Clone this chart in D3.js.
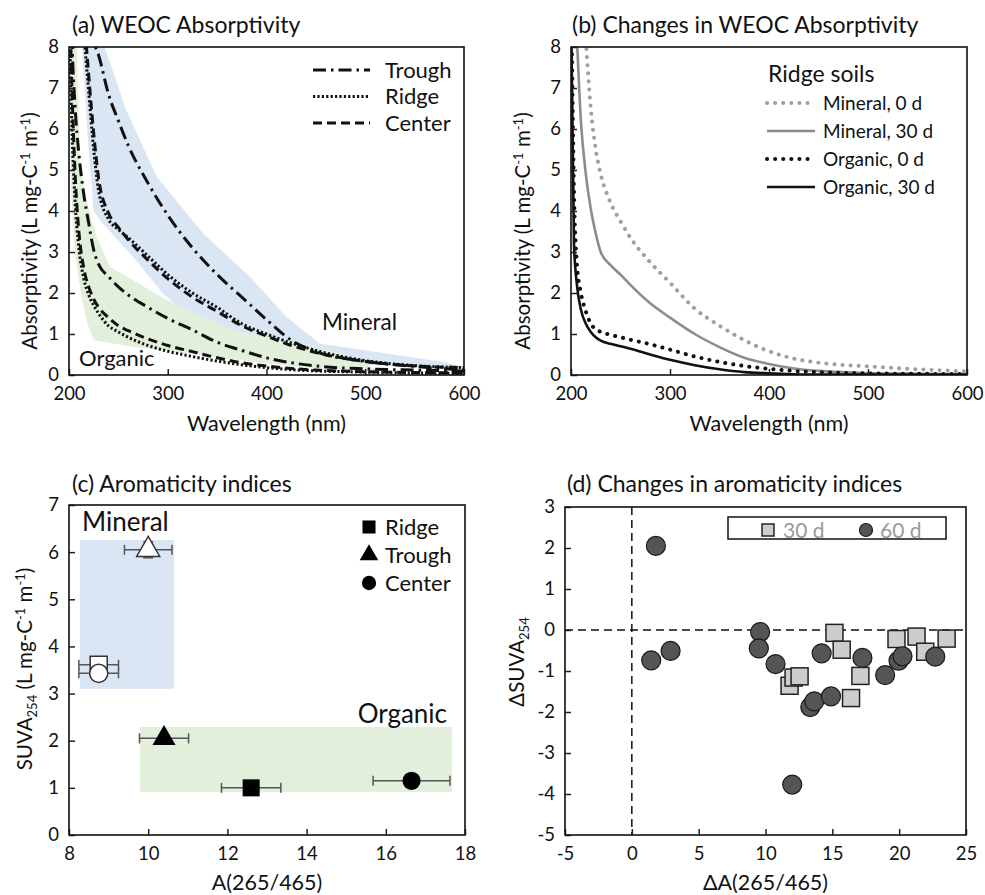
<!DOCTYPE html>
<html>
<head>
<meta charset="utf-8">
<script src="https://cdn.jsdelivr.net/npm/d3@7"></script>
<style>
  body { margin: 0; background: #fff; }
  svg { display: block; font-family: Lato, sans-serif; }
</style>
</head>
<body>
<svg id="fig" width="985" height="895"></svg>
<script>
// ---- shared wavelength grid (nm) ----
const wavelengths = [200, 203, 206, 210, 215, 220, 225, 230, 240, 250, 260, 280, 300, 325, 350, 375, 400, 425, 450, 500, 550, 600];

// (a) absorptivity by landscape position
const troughMineral = [14, 13, 12, 11, 10, 9, 8.15, 7.8, 6.85, 6.2, 5.6, 4.68, 3.9, 3.1, 2.45, 1.9, 1.35, 0.85, 0.57, 0.33, 0.21, 0.12];
const ridgeMineral  = [20, 17, 14, 10.5, 8.4, 6.9, 5.5, 4.5, 3.8, 3.55, 3.35, 2.9, 2.45, 2.0, 1.65, 1.25, 1.0, 0.78, 0.6, 0.35, 0.23, 0.18];
const centerMineral = [20, 17, 14, 11, 8.9, 7.3, 5.9, 4.8, 3.95, 3.6, 3.3, 2.8, 2.35, 1.9, 1.55, 1.2, 0.95, 0.72, 0.55, 0.33, 0.22, 0.18];
const troughOrganic = [12, 8.2, 6.6, 5.4, 4.4, 3.7, 3.05, 2.7, 2.4, 2.15, 1.95, 1.65, 1.38, 1.1, 0.8, 0.6, 0.42, 0.3, 0.22, 0.15, 0.12, 0.1];
const ridgeOrganic  = [9, 6, 4.3, 3.1, 2.35, 1.95, 1.7, 1.5, 1.2, 1.05, 0.92, 0.72, 0.58, 0.45, 0.34, 0.25, 0.18, 0.13, 0.1, 0.07, 0.05, 0.04];
const centerOrganic = [10, 7, 5, 3.5, 2.6, 2.15, 1.85, 1.65, 1.4, 1.2, 1.08, 0.88, 0.72, 0.57, 0.42, 0.3, 0.22, 0.16, 0.12, 0.08, 0.06, 0.05];

// shaded ranges in (a)
const mineralBandTopWl = [213, 236, 258, 289, 336, 383, 420, 454, 579, 600];
const mineralBandTop   = [8, 8, 6.46, 4.83, 3.45, 2.4, 1.42, 0.77, 0.32, 0.2];
const mineralBandLowWl = [213, 219, 225, 231, 265, 295, 306, 366, 434, 500, 600];
const mineralBandLow   = [8, 5.8, 4.0, 3.78, 2.88, 1.99, 1.75, 1.02, 0.53, 0.25, 0.15];
const organicBandTopWl = [200, 208, 211, 221, 228, 241.5, 299, 366, 467, 500, 521];
const organicBandTop   = [8, 8, 5.08, 3.94, 3.37, 2.64, 1.83, 1.1, 0.6, 0.28, 0];
const organicBandLowWl = [200, 202, 206, 212, 218, 225, 265, 332, 400, 467, 521];
const organicBandLow   = [8, 4.5, 3.0, 2.0, 1.3, 0.85, 0.69, 0.49, 0.28, 0.12, 0];

// (b) ridge soils, 0 d vs 30 d
const mineral0d  = [20, 16, 13, 10.5, 8.2, 6.5, 5.5, 4.9, 4.2, 3.75, 3.35, 2.75, 2.25, 1.62, 1.2, 0.85, 0.58, 0.4, 0.3, 0.21, 0.14, 0.09];
const mineral30d = [14, 10, 8.2, 6.2, 4.9, 4.05, 3.45, 3.0, 2.68, 2.45, 2.2, 1.75, 1.4, 1.0, 0.68, 0.42, 0.27, 0.16, 0.1, 0.05, 0.03, 0.02];
const organic0d  = [10, 4.5, 2.7, 2.0, 1.55, 1.25, 1.12, 1.05, 0.98, 0.92, 0.86, 0.75, 0.62, 0.45, 0.32, 0.22, 0.15, 0.1, 0.07, 0.04, 0.03, 0.02];
const organic30d = [9, 3.2, 2.2, 1.6, 1.25, 1.05, 0.92, 0.84, 0.76, 0.7, 0.64, 0.5, 0.37, 0.24, 0.14, 0.07, 0.04, 0.02, 0.01, 0.01, 0.01, 0.01];

// (c) aromaticity indices: order Ridge, Trough, Center
const sites = ["Ridge", "Trough", "Center"];
const mineralA    = [8.75, 10.0, 8.75];
const mineralAErr = [0.5, 0.6, 0.5];
const mineralSuva = [3.61, 6.05, 3.43];
const mineralSuvaErr = [0.08, 0.17, 0.08];
const organicA    = [12.6, 10.4, 16.65];
const organicAErr = [0.75, 0.62, 0.97];
const organicSuva = [1.0, 2.05, 1.15];
const mineralRect = [8.28, 10.65, 3.1, 6.26];
const organicRect = [9.79, 17.67, 0.91, 2.29];

// (d) changes in aromaticity indices
const dA30 = [15.16, 15.7, 11.8, 12.1, 12.55, 17.1, 16.4, 19.8, 21.3, 21.95, 23.55];
const dS30 = [-0.07, -0.48, -1.36, -1.16, -1.13, -1.12, -1.66, -0.22, -0.16, -0.53, -0.21];
const dA60 = [1.8, 1.45, 2.9, 9.6, 9.5, 10.75, 13.35, 13.65, 14.2, 14.9, 17.25, 18.95, 19.95, 20.25, 22.7, 12.0];
const dS60 = [2.05, -0.74, -0.51, -0.05, -0.45, -0.83, -1.88, -1.74, -0.57, -1.62, -0.68, -1.1, -0.75, -0.64, -0.65, -3.77];

const xTicksWl = [200, 300, 400, 500, 600];
const yTicksAbs = [0, 1, 2, 3, 4, 5, 6, 7, 8];

const svg = d3.select("#fig");

function drawAxes(box, x, y, xTicks, yTicks) {
  const g = svg.append("g");
  g.append("g")
    .attr("transform", `translate(0,${box.y1})`)
    .call(d3.axisBottom(x).tickValues(xTicks).tickSize(-6).tickPadding(12).tickFormat(d => String(d)));
  g.append("g")
    .attr("transform", `translate(${box.x0},0)`)
    .call(d3.axisLeft(y).tickValues(yTicks).tickSize(-6).tickPadding(10).tickFormat(d => String(d)));
  g.selectAll(".domain").remove();
  g.selectAll(".tick line").attr("stroke", "#222").attr("stroke-width", 1.5);
  g.selectAll(".tick text").attr("font-size", 18.5).attr("font-family", "Lato").attr("fill", "#111");
  svg.append("rect")
    .attr("x", box.x0).attr("y", box.y0)
    .attr("width", box.x1 - box.x0).attr("height", box.y1 - box.y0)
    .attr("fill", "none").attr("stroke", "#111").attr("stroke-width", 1.6);
}

function title(x, y, txt) {
  svg.append("text").attr("x", x).attr("y", y).attr("font-size", 23).attr("fill", "#111").text(txt);
}

function absLabel(cx, cy) {
  const t = svg.append("text")
    .attr("transform", `translate(${cx},${cy}) rotate(-90)`)
    .attr("text-anchor", "middle").attr("dy", "0.35em")
    .attr("font-size", 20.5).attr("fill", "#111");
  t.append("tspan").text("Absorptivity (L mg-C");
  t.append("tspan").attr("font-size", 13).attr("dy", -7).text("-1");
  t.append("tspan").attr("dy", 7).text(" m");
  t.append("tspan").attr("font-size", 13).attr("dy", -7).text("-1");
  t.append("tspan").attr("dy", 7).text(")");
}

function clip(id, box) {
  svg.append("clipPath").attr("id", id).append("rect")
    .attr("x", box.x0).attr("y", box.y0)
    .attr("width", box.x1 - box.x0).attr("height", box.y1 - box.y0);
}

// ================= (a) =================
const boxA = { x0: 69, x1: 464, y0: 47, y1: 375 };
const xA = d3.scaleLinear().domain([200, 600]).range([boxA.x0, boxA.x1]);
const yA = d3.scaleLinear().domain([0, 8]).range([boxA.y1, boxA.y0]);
clip("clipA", boxA);

const bandPoly = (topWl, top, lowWl, low, x, y) => {
  const pts = topWl.map((w, i) => [w, top[i]])
    .concat(lowWl.map((w, i) => [w, low[i]]).reverse());
  return d3.line().x(d => x(d[0])).y(d => y(d[1]))(pts) + "Z";
};

const gA = svg.append("g").attr("clip-path", "url(#clipA)");
gA.append("path").attr("d", bandPoly(mineralBandTopWl, mineralBandTop, mineralBandLowWl, mineralBandLow, xA, yA))
  .attr("fill", "#dbe6f4");
gA.append("path").attr("d", bandPoly(organicBandTopWl, organicBandTop, organicBandLowWl, organicBandLow, xA, yA))
  .attr("fill", "#e2efdb");

const styleA = {
  trough: "13,5,2.5,5",
  ridge: "2.2,2.2",
  center: "9,5"
};
const lineA = d3.line().curve(d3.curveMonotoneX).x((d, i) => xA(wavelengths[i])).y(d => yA(d));
[
  [troughMineral, styleA.trough], [ridgeMineral, styleA.ridge], [centerMineral, styleA.center],
  [troughOrganic, styleA.trough], [ridgeOrganic, styleA.ridge], [centerOrganic, styleA.center]
].forEach(([vals, dash]) => {
  gA.append("path").attr("d", lineA(vals))
    .attr("fill", "none").attr("stroke", "#111").attr("stroke-width", 3)
    .attr("stroke-dasharray", dash);
});

drawAxes(boxA, xA, yA, xTicksWl, yTicksAbs);
title(72, 33, "(a) WEOC Absorptivity");
absLabel(30, 231);
svg.append("text").attr("x", (boxA.x0 + boxA.x1) / 2).attr("y", 431).attr("text-anchor", "middle")
  .attr("font-size", 21.5).attr("fill", "#111").text("Wavelength (nm)");
svg.append("text").attr("x", 322).attr("y", 330).attr("font-size", 22.5).attr("fill", "#111").text("Mineral");
svg.append("text").attr("x", 79).attr("y", 366).attr("font-size", 22).attr("fill", "#111").text("Organic");

const legA = [["Trough", styleA.trough], ["Ridge", styleA.ridge], ["Center", styleA.center]];
legA.forEach(([name, dash], i) => {
  const yy = 70 + i * 26.5;
  svg.append("line").attr("x1", 313).attr("x2", 370).attr("y1", yy).attr("y2", yy)
    .attr("stroke", "#111").attr("stroke-width", 3).attr("stroke-dasharray", dash);
  svg.append("text").attr("x", 385).attr("y", yy).attr("dy", "0.35em")
    .attr("font-size", 22).attr("fill", "#111").text(name);
});

// ================= (b) =================
const boxB = { x0: 571, x1: 967, y0: 47, y1: 375 };
const xB = d3.scaleLinear().domain([200, 600]).range([boxB.x0, boxB.x1]);
const yB = d3.scaleLinear().domain([0, 8]).range([boxB.y1, boxB.y0]);
clip("clipB", boxB);
const gB = svg.append("g").attr("clip-path", "url(#clipB)");
const lineB = d3.line().curve(d3.curveMonotoneX).x((d, i) => xB(wavelengths[i])).y(d => yB(d));

const seriesB = [
  { name: "Mineral, 0 d",  vals: mineral0d,  color: "#a0a0a0", dotted: true },
  { name: "Mineral, 30 d", vals: mineral30d, color: "#8c8c8c", dotted: false },
  { name: "Organic, 0 d",  vals: organic0d,  color: "#111",    dotted: true },
  { name: "Organic, 30 d", vals: organic30d, color: "#111",    dotted: false }
];
const styleLineB = (sel, s) => sel
  .attr("fill", "none").attr("stroke", s.color)
  .attr("stroke-width", s.dotted ? 4 : 2.6)
  .attr("stroke-linecap", s.dotted ? "round" : "butt")
  .attr("stroke-dasharray", s.dotted ? "0.1,8" : null);

seriesB.forEach(s => styleLineB(gB.append("path").attr("d", lineB(s.vals)), s));

drawAxes(boxB, xB, yB, xTicksWl, yTicksAbs);
title(572, 33, "(b) Changes in WEOC Absorptivity");
absLabel(523, 231);
svg.append("text").attr("x", (boxB.x0 + boxB.x1) / 2).attr("y", 431).attr("text-anchor", "middle")
  .attr("font-size", 21.5).attr("fill", "#111").text("Wavelength (nm)");
svg.append("text").attr("x", 768).attr("y", 82).attr("font-size", 23).attr("fill", "#111").text("Ridge soils");
seriesB.forEach((s, i) => {
  const yy = 103 + i * 28;
  styleLineB(svg.append("line").attr("x1", 767).attr("x2", 815).attr("y1", yy).attr("y2", yy), s);
  svg.append("text").attr("x", 823).attr("y", yy).attr("dy", "0.35em")
    .attr("font-size", 19).attr("fill", "#111").text(s.name);
});

// ================= (c) =================
const boxC = { x0: 69, x1: 465, y0: 505, y1: 835 };
const xC = d3.scaleLinear().domain([8, 18]).range([boxC.x0, boxC.x1]);
const yC = d3.scaleLinear().domain([0, 7]).range([boxC.y1, boxC.y0]);

const rectC = (r, fill) => svg.append("rect")
  .attr("x", xC(r[0])).attr("y", yC(r[3]))
  .attr("width", xC(r[1]) - xC(r[0])).attr("height", yC(r[2]) - yC(r[3]))
  .attr("fill", fill);
rectC(mineralRect, "#dbe6f4");
rectC(organicRect, "#e2efdb");

const symTypes = [d3.symbolSquare, d3.symbolTriangle, d3.symbolCircle];
const symSizes = [290, 230, 260];
const errColor = "#555";

function errH(xv, e, yv) {
  const g = svg.append("g").attr("stroke", errColor).attr("stroke-width", 1.5);
  g.append("line").attr("x1", xC(xv - e)).attr("x2", xC(xv + e)).attr("y1", yC(yv)).attr("y2", yC(yv));
  [xv - e, xv + e].forEach(v => g.append("line").attr("x1", xC(v)).attr("x2", xC(v))
    .attr("y1", yC(yv) - 5).attr("y2", yC(yv) + 5));
}
function errV(xv, yv, e) {
  const g = svg.append("g").attr("stroke", errColor).attr("stroke-width", 1.5);
  g.append("line").attr("x1", xC(xv)).attr("x2", xC(xv)).attr("y1", yC(yv - e)).attr("y2", yC(yv + e));
  [yv - e, yv + e].forEach(v => g.append("line").attr("x1", xC(xv) - 5).attr("x2", xC(xv) + 5)
    .attr("y1", yC(v)).attr("y2", yC(v)));
}

sites.forEach((s, i) => {
  errH(mineralA[i], mineralAErr[i], mineralSuva[i]);
  errV(mineralA[i], mineralSuva[i], mineralSuvaErr[i]);
  svg.append("path").attr("d", d3.symbol(symTypes[i], symSizes[i])())
    .attr("transform", `translate(${xC(mineralA[i])},${yC(mineralSuva[i])})`)
    .attr("fill", "#fff").attr("stroke", "#333").attr("stroke-width", 1.5);
});
sites.forEach((s, i) => {
  errH(organicA[i], organicAErr[i], organicSuva[i]);
  svg.append("path").attr("d", d3.symbol(symTypes[i], symSizes[i])())
    .attr("transform", `translate(${xC(organicA[i])},${yC(organicSuva[i])})`)
    .attr("fill", "#000");
});

drawAxes(boxC, xC, yC, [8, 10, 12, 14, 16, 18], [0, 1, 2, 3, 4, 5, 6, 7]);
title(72, 492, "(c) Aromaticity indices");
svg.append("text").attr("x", 82).attr("y", 531).attr("font-size", 26).attr("fill", "#111").text("Mineral");
svg.append("text").attr("x", 447).attr("y", 723).attr("text-anchor", "end").attr("font-size", 26).attr("fill", "#111").text("Organic");
sites.forEach((s, i) => {
  const yy = 527 + i * 28;
  svg.append("path").attr("d", d3.symbol(symTypes[i], [170, 150, 160][i])())
    .attr("transform", `translate(369,${yy})`).attr("fill", "#000");
  svg.append("text").attr("x", 385).attr("y", yy).attr("dy", "0.35em")
    .attr("font-size", 22).attr("fill", "#111").text(s);
});
svg.append("text").attr("x", (boxC.x0 + boxC.x1) / 2).attr("y", 890).attr("text-anchor", "middle")
  .attr("font-size", 21.5).attr("fill", "#111").text("A(265/465)");
{
  const t = svg.append("text")
    .attr("transform", "translate(25,669) rotate(-90)")
    .attr("text-anchor", "middle").attr("dy", "0.35em")
    .attr("font-size", 20.5).attr("fill", "#111");
  t.append("tspan").text("SUVA");
  t.append("tspan").attr("font-size", 13).attr("dy", 5).text("254");
  t.append("tspan").attr("dy", -5).text(" (L mg-C");
  t.append("tspan").attr("font-size", 13).attr("dy", -7).text("-1");
  t.append("tspan").attr("dy", 7).text(" m");
  t.append("tspan").attr("font-size", 13).attr("dy", -7).text("-1");
  t.append("tspan").attr("dy", 7).text(")");
}

// ================= (d) =================
const boxD = { x0: 565, x1: 966, y0: 507, y1: 835 };
const xD = d3.scaleLinear().domain([-5, 25]).range([boxD.x0, boxD.x1]);
const yD = d3.scaleLinear().domain([-5, 3]).range([boxD.y1, boxD.y0]);

svg.append("line").attr("x1", xD(0)).attr("x2", xD(0)).attr("y1", boxD.y0).attr("y2", boxD.y1)
  .attr("stroke", "#111").attr("stroke-width", 1.5).attr("stroke-dasharray", "8,5");
svg.append("line").attr("x1", boxD.x0).attr("x2", boxD.x1).attr("y1", yD(0)).attr("y2", yD(0))
  .attr("stroke", "#111").attr("stroke-width", 1.5).attr("stroke-dasharray", "8,5");

const sq = 17;
svg.append("g").selectAll("rect").data(dA30).join("rect")
  .attr("x", (d, i) => xD(d) - sq / 2).attr("y", (d, i) => yD(dS30[i]) - sq / 2)
  .attr("width", sq).attr("height", sq)
  .attr("fill", "#cdcdcd").attr("stroke", "#222").attr("stroke-width", 1.5);
svg.append("g").selectAll("circle").data(dA60).join("circle")
  .attr("cx", d => xD(d)).attr("cy", (d, i) => yD(dS60[i])).attr("r", 9.5)
  .attr("fill", "#555").attr("stroke", "#1a1a1a").attr("stroke-width", 1.2);

drawAxes(boxD, xD, yD, [-5, 0, 5, 10, 15, 20, 25], [-5, -4, -3, -2, -1, 0, 1, 2, 3]);
title(567, 492, "(d) Changes in aromaticity indices");

svg.append("rect").attr("x", 728).attr("y", 517).attr("width", 218).attr("height", 22)
  .attr("fill", "#fff").attr("stroke", "#111").attr("stroke-width", 1.5);
svg.append("rect").attr("x", 762).attr("y", 524).attr("width", 12).attr("height", 12)
  .attr("fill", "#cdcdcd").attr("stroke", "#222").attr("stroke-width", 1.5);
svg.append("text").attr("x", 783).attr("y", 530).attr("dy", "0.36em").attr("font-size", 21)
  .attr("fill", "#999").text("30 d");
svg.append("circle").attr("cx", 866).attr("cy", 530).attr("r", 6.5)
  .attr("fill", "#555").attr("stroke", "#1a1a1a").attr("stroke-width", 1.2);
svg.append("text").attr("x", 880).attr("y", 530).attr("dy", "0.36em").attr("font-size", 21)
  .attr("fill", "#999").text("60 d");

svg.append("text").attr("x", (boxD.x0 + boxD.x1) / 2).attr("y", 890).attr("text-anchor", "middle")
  .attr("font-size", 21.5).attr("fill", "#111").text("ΔA(265/465)");
{
  const t = svg.append("text")
    .attr("transform", "translate(517,662) rotate(-90)")
    .attr("text-anchor", "middle").attr("dy", "0.35em")
    .attr("font-size", 20.5).attr("fill", "#111");
  t.append("tspan").text("ΔSUVA");
  t.append("tspan").attr("font-size", 13).attr("dy", 5).text("254");
}
</script>
</body>
</html>
